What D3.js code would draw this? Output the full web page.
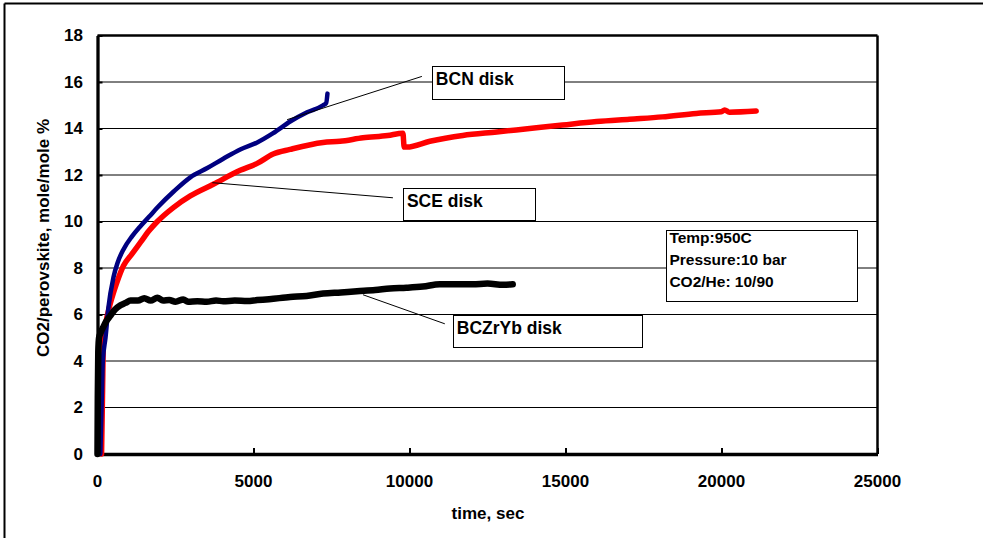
<!DOCTYPE html>
<html lang="en">

<head>
  <meta charset="utf-8">
  <title>CO2 uptake of perovskite disks</title>
  <script src="https://d3js.org/d3.v7.min.js"></script>
  <style>
    body { margin: 0; background: white; }
    text { font-family: "Liberation Sans", Arial, sans-serif; font-weight: bold; fill: #000; }
    .tick-label { font-size: 17px; }
    .axis-title { font-size: 17px; }
    .note { font-size: 17.5px; }
    .cond { font-size: 15.5px; }
  </style>
</head>

<body>
  <div id="chart"></div>
  <script>
    // data (time in sec, CO2/perovskite in mole/mole %)
    var xTicks = [0, 5000, 10000, 15000, 20000, 25000];
    var yTicks = [0, 2, 4, 6, 8, 10, 12, 14, 16, 18];

    var bcnTime = [90, 130, 170, 256, 350, 512, 650, 832, 1100, 1376, 1650, 1919, 2450, 2975, 3519, 4031, 4574, 5118, 5630, 6174, 6718, 7230, 7330, 7370];
    var bcnValue = [0, 2.0, 4.0, 5.0, 6.3, 7.6, 8.25, 8.8, 9.35, 9.8, 10.2, 10.6, 11.3, 11.9, 12.3, 12.7, 13.1, 13.4, 13.8, 14.3, 14.7, 15.0, 15.1, 15.5];

    var sceTime = [130, 160, 192, 260, 416, 600, 832, 1100, 1376, 1650, 1919, 2431, 2975, 3711, 4574, 5118, 5630, 6174, 7230, 7773, 8509, 9300, 9789, 9830, 9917, 10653, 11708, 12796, 13852, 14907, 15995, 17051, 18107, 19194, 19994, 20100, 20250, 21113];
    var sceValue = [0, 2.5, 5.0, 5.6, 6.5, 7.3, 8.1, 8.6, 9.1, 9.6, 10.0, 10.6, 11.1, 11.6, 12.2, 12.5, 12.9, 13.1, 13.4, 13.45, 13.6, 13.7, 13.8, 13.2, 13.2, 13.45, 13.7, 13.85, 14.0, 14.15, 14.3, 14.4, 14.5, 14.65, 14.72, 14.8, 14.7, 14.75];

    var bczTime = [0, 10, 25, 50, 96, 200, 300, 416, 550, 736, 900, 1056, 1300, 1500, 1700, 1919, 2100, 2300, 2500, 2751, 2900, 3200, 3500, 3800, 4031, 4400, 4800, 5118, 5500, 6174, 6700, 7230, 7800, 8317, 8900, 9373, 9900, 10429, 10973, 11400, 12028, 12500, 13000, 13308];
    var bczValue = [0, 2.5, 4.4, 5.0, 5.2, 5.5, 5.75, 5.95, 6.2, 6.4, 6.5, 6.6, 6.6, 6.7, 6.6, 6.72, 6.6, 6.62, 6.55, 6.65, 6.55, 6.57, 6.55, 6.6, 6.57, 6.6, 6.58, 6.62, 6.66, 6.75, 6.8, 6.9, 6.95, 7.0, 7.05, 7.12, 7.15, 7.2, 7.3, 7.3, 7.3, 7.33, 7.28, 7.3];

    var conditions = ['Temp:950C', 'Pressure:10 bar', 'CO2/He: 10/90'];

    var w = 989, h = 538;
    var svg = d3.select('#chart').append('svg')
      .attr('width', w)
      .attr('height', h);

    var x = d3.scaleLinear().domain([0, 25000]).range([97.5, 877.5]);
    var y = d3.scaleLinear().domain([0, 18]).range([454, 35.5]);

    // outer frame (only top and left visible)
    svg.append('line').attr('x1', 4.5).attr('x2', 983).attr('y1', 3.5).attr('y2', 3.5)
      .attr('stroke', '#000').attr('stroke-width', 2);
    svg.append('line').attr('x1', 4.5).attr('x2', 4.5).attr('y1', 3.5).attr('y2', h)
      .attr('stroke', '#000').attr('stroke-width', 2);

    // gridlines
    svg.selectAll('line.grid')
      .data(yTicks.slice(1, -1))
      .enter().append('line')
      .attr('class', 'grid')
      .attr('x1', x(0)).attr('x2', x(25000))
      .attr('y1', function (d) { return y(d); })
      .attr('y2', function (d) { return y(d); })
      .attr('stroke', '#000').attr('stroke-width', 1);

    // plot border top/right
    svg.append('line').attr('x1', x(0)).attr('x2', x(25000)).attr('y1', y(18)).attr('y2', y(18))
      .attr('stroke', '#000').attr('stroke-width', 2.5);
    svg.append('line').attr('x1', x(25000)).attr('x2', x(25000)).attr('y1', y(18)).attr('y2', y(0))
      .attr('stroke', '#000').attr('stroke-width', 2.5);

    // axes with inward ticks
    var xAxis = svg.append('g').attr('transform', 'translate(0,' + y(0) + ')')
      .call(d3.axisBottom(x).tickValues(xTicks).tickSizeInner(-6).tickSizeOuter(0).tickFormat(''));
    var yAxis = svg.append('g').attr('transform', 'translate(' + x(0) + ',0)')
      .call(d3.axisLeft(y).tickValues(yTicks).tickSizeInner(-5).tickSizeOuter(0).tickFormat(''));
    [xAxis, yAxis].forEach(function (a) {
      a.select('.domain').attr('stroke', '#000').attr('stroke-width', 3.3);
      a.selectAll('.tick line').attr('stroke', '#000').attr('stroke-width', 2);
    });

    svg.selectAll('text.xlab')
      .data(xTicks)
      .enter().append('text')
      .attr('class', 'tick-label xlab')
      .attr('x', function (d) { return x(d); })
      .attr('y', 487)
      .attr('text-anchor', 'middle')
      .text(function (d) { return d; });

    svg.selectAll('text.ylab')
      .data(yTicks)
      .enter().append('text')
      .attr('class', 'tick-label ylab')
      .attr('x', 83)
      .attr('y', function (d) { return y(d); })
      .attr('dy', '.35em')
      .attr('text-anchor', 'end')
      .text(function (d) { return d; });

    svg.append('text').attr('class', 'axis-title')
      .attr('x', 488).attr('y', 519)
      .attr('text-anchor', 'middle')
      .text('time, sec');

    svg.append('text').attr('class', 'axis-title')
      .attr('transform', 'translate(49,238) rotate(-90)')
      .attr('text-anchor', 'middle')
      .text('CO2/perovskite, mole/mole %');

    // curves
    var line = d3.line()
      .x(function (d) { return x(d[0]); })
      .y(function (d) { return y(d[1]); })
      .curve(d3.curveMonotoneX);

    function series(t, v) { return t.map(function (d, i) { return [d, v[i]]; }); }

    var curves = [
      { pts: series(sceTime, sceValue), color: '#ff0000', width: 5.5 },
      { pts: series(bcnTime, bcnValue), color: '#000080', width: 4.5 },
      { pts: series(bczTime, bczValue), color: '#000000', width: 6.5 }
    ];
    svg.selectAll('path.curve')
      .data(curves)
      .enter().append('path')
      .attr('class', 'curve')
      .attr('d', function (d) { return line(d.pts); })
      .attr('fill', 'none')
      .attr('stroke', function (d) { return d.color; })
      .attr('stroke-width', function (d) { return d.width; })
      .attr('stroke-linecap', 'round')
      .attr('stroke-linejoin', 'round');

    // callouts: box anchor in data units, leader from box to curve
    var notes = [
      { label: 'BCN disk', t: 10717, v: 16.67, bw: 132, bh: 33, from: [10397, 16.24], to: [6078, 14.38] },
      { label: 'SCE disk', t: 9789, v: 11.46, bw: 132, bh: 32, from: [9469, 11.02], to: [3679, 11.67] },
      { label: 'BCZrYb disk', t: 11388, v: 5.99, bw: 189, bh: 32, from: [11132, 5.60], to: [8509, 6.85] }
    ];
    notes.forEach(function (n) {
      svg.append('line')
        .attr('x1', x(n.from[0])).attr('y1', y(n.from[1]))
        .attr('x2', x(n.to[0])).attr('y2', y(n.to[1]))
        .attr('stroke', '#000').attr('stroke-width', 1);
      svg.append('rect')
        .attr('x', Math.round(x(n.t)) + 0.5).attr('y', Math.round(y(n.v)) + 0.5)
        .attr('width', n.bw).attr('height', n.bh)
        .attr('fill', 'white').attr('stroke', '#000').attr('stroke-width', 1);
      svg.append('text').attr('class', 'note')
        .attr('x', x(n.t) + 4).attr('y', y(n.v) + 19)
        .text(n.label);
    });

    // conditions box
    var cx = x(18234), cy = y(9.65);
    svg.append('rect')
      .attr('x', Math.round(cx) + 0.5).attr('y', Math.round(cy) + 0.5)
      .attr('width', 191).attr('height', 71)
      .attr('fill', 'white').attr('stroke', '#000').attr('stroke-width', 1);
    svg.selectAll('text.cond')
      .data(conditions)
      .enter().append('text')
      .attr('class', 'cond')
      .attr('x', cx + 3)
      .attr('y', function (d, i) { return cy + 13 + i * 22; })
      .text(function (d) { return d; });
  </script>
</body>

</html>
